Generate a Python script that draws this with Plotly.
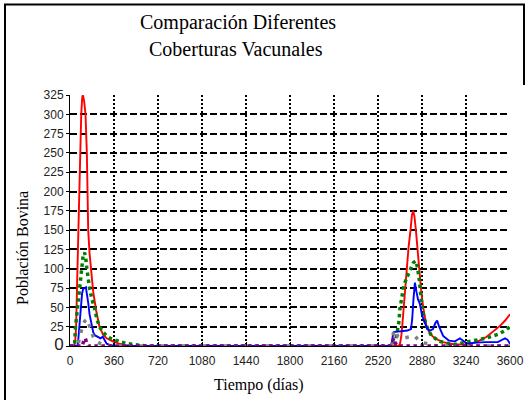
import plotly.graph_objects as go

# ---- data (days, population) ----
red_t = [0, 35, 42, 50, 58, 65, 72, 78, 85, 92, 100, 105, 115, 127, 138, 143, 149, 160, 173, 190, 214, 241, 270, 300, 350, 400, 450, 500, 600,
         2600, 2690, 2700, 2710, 2718, 2735, 2753, 2770, 2786, 2798, 2808, 2818, 2830, 2843, 2857, 2873, 2890, 2905, 2917, 2950, 2985,
         3050, 3100, 3150, 3200, 3250, 3300, 3350, 3409, 3460, 3518, 3560, 3600]
red_y = [0, 0, 5, 25, 80, 133, 180, 206, 260, 300, 322, 325, 318, 300, 249, 200, 150, 120, 100, 70, 46, 25, 15, 10, 6, 3, 1.5, 0.5, 0,
         0, 0, 3, 12, 25, 60, 100, 128, 150, 170, 175, 168, 150, 125, 100, 72, 50, 35, 25, 15, 10,
         5, 3, 2, 2, 2, 4, 7, 12, 18, 26, 33, 41]

green_t = [0, 37, 45, 55, 64, 75, 83, 95, 108, 119, 128, 138, 150, 160, 180, 200, 220, 241, 270, 300, 330, 380, 420, 470, 520, 560, 620,
           2600, 2640, 2660, 2672, 2690, 2699, 2715, 2730, 2760, 2785, 2810, 2830, 2845, 2857, 2870, 2882, 2900, 2917, 2958, 3026,
           3100, 3150, 3240, 3300, 3400, 3500, 3560, 3600]
green_y = [0, 0, 25, 40, 50, 70, 75, 100, 118, 121, 115, 100, 85, 75, 60, 50, 35, 25, 18, 13, 10, 7, 5, 3, 2, 1, 0,
           0, 0, 3, 13, 30, 47, 65, 78, 90, 100, 108, 110, 100, 86, 65, 48, 35, 26, 13, 6,
           3, 2, 5, 7, 10, 15, 20, 25]

blue_t = [0, 60, 66, 70, 76, 83, 92, 99, 108, 130, 140, 150, 160, 170, 178, 190, 202, 228, 250, 268, 285, 300, 330, 380,
          2600, 2630, 2640, 2650, 2700, 2760, 2790, 2800, 2810, 2822, 2835, 2848, 2862, 2880, 2903, 2925, 2944, 2970, 2990, 3004,
          3020, 3053, 3100, 3150, 3190, 3220, 3250, 3300, 3400, 3500, 3540, 3560, 3580, 3600]
blue_y = [0, 0, 5, 15, 25, 35, 55, 68, 74, 76, 68, 55, 41, 32, 24, 18, 14, 12, 10, 12, 6, 3, 1, 0,
          0, 0, 12, 18, 19, 20, 22, 35, 60, 82, 70, 60, 55, 40, 30, 22, 20, 22, 30, 33,
          25, 13, 7, 6, 10, 6, 3, 4, 5, 5, 8, 10, 8, 3]

gray_t = [0, 60, 70, 85, 100, 120, 140, 155, 170, 190, 215, 250, 290, 330,
          2600, 2630, 2640, 2650, 2665, 2680, 2720, 2780, 2820, 2850, 2900, 2950, 3000, 3600]
gray_y = [0, 0, 5, 15, 25, 32, 35, 28, 20, 12, 6, 3, 1, 0,
          0, 0, 10, 20, 20, 13, 10, 12, 13, 8, 4, 2, 0, 0]

purple_t = [0, 100, 115, 125, 135, 150, 2620, 2640, 2650, 2660, 2680, 3600]
purple_y = [0, 0, 8, 10, 5, 0, 0, 8, 10, 4, 0, 0]

y_ticks = list(range(0, 326, 25))
x_ticks = list(range(0, 3601, 360))

W, H = 531, 401
ML, MR, MT, MB = 70, 21, 95, 55
PW, PH = W - ML - MR, H - MT - MB


def px(x):
    return (x - ML) / PW


def py(y):
    return (H - MB - y) / PH


fig = go.Figure()
fig.add_trace(go.Scatter(x=red_t, y=red_y, mode="lines", line=dict(color="#ff0000", width=1.9), cliponaxis=False))
fig.add_trace(go.Scatter(x=green_t, y=green_y, mode="lines", line=dict(color="#008000", width=3.5, dash="3.5px,3.5px"), cliponaxis=False))
fig.add_trace(go.Scatter(x=blue_t, y=blue_y, mode="lines", line=dict(color="#0000ff", width=1.9), cliponaxis=False))
fig.add_trace(go.Scatter(x=gray_t, y=gray_y, mode="lines", line=dict(color="#808080", width=3.5, dash="3.5px,7px"), cliponaxis=False))
fig.add_trace(go.Scatter(x=purple_t, y=purple_y, mode="lines", line=dict(color="#800080", width=3.5, dash="3.5px,3.5px"), cliponaxis=False))

y_text = ['<span style="font-size:17px">0</span>'] + [str(v) for v in y_ticks[1:]]

fig.update_layout(
    width=W, height=H, autosize=False,
    margin=dict(l=ML, r=MR, t=MT, b=MB, pad=0, autoexpand=False),
    paper_bgcolor="white", plot_bgcolor="white",
    showlegend=False,
    font=dict(family="Liberation Sans, Arial, sans-serif", size=12, color="#222"),
    xaxis=dict(range=[0, 3600], tickvals=x_ticks, ticktext=[str(v) for v in x_ticks], automargin=False,
               showgrid=True, gridcolor="black", gridwidth=1.8, griddash="2px,2px",
               showline=True, linecolor="black", linewidth=1, zeroline=False,
               ticks="inside", ticklen=4, tickcolor="black", ticklabelstandoff=4, fixedrange=True),
    yaxis=dict(range=[0, 325], tickvals=y_ticks, ticktext=y_text, automargin=False,
               showgrid=True, gridcolor="black", gridwidth=1.6, griddash="7px,3px",
               showline=True, linecolor="black", linewidth=1, zeroline=False,
               ticks="outside", ticklen=3, tickcolor="black", fixedrange=True),
)

serif = "Liberation Serif, Times New Roman, serif"
labels = [
    ("Comparación Diferentes", 237.5, 22, 0, 20),
    ("Coberturas Vacunales", 236, 49, 0, 20),
    ("Población Bovina", 22.5, 248.5, -90, 16),
    ("Tiempo (días)", 259, 385, 0, 16),
]
for txt, lx, ly, ang, size in labels:
    fig.add_annotation(text=txt, x=px(lx), y=py(ly), xref="paper", yref="paper",
                       xanchor="center", yanchor="middle", showarrow=False, textangle=ang,
                       font=dict(family=serif, size=size, color="black"))

# outer frame (left, top and the upper part of the right edge)
frame = "M {x0},{yb} L {x0},{yt} L {x1},{yt} L {x1},{yr}".format(
    x0=px(5), x1=px(524), yt=py(4.5), yb=py(400), yr=py(85))
fig.add_shape(type="path", xref="paper", yref="paper", path=frame,
              line=dict(color="black", width=2))

fig.write_html("out.html", config={"displayModeBar": False, "responsive": False})

# remove the browser's default page margin so the figure sits at (0, 0)
with open("out.html", encoding="utf-8") as f:
    html = f.read()
html = html.replace("<body>", '<body style="margin:0;padding:0;overflow:hidden">', 1)
html = html.replace("<head>", "<head><style>html,body{margin:0;padding:0;overflow:hidden;}</style>", 1)
with open("out.html", "w", encoding="utf-8") as f:
    f.write(html)
